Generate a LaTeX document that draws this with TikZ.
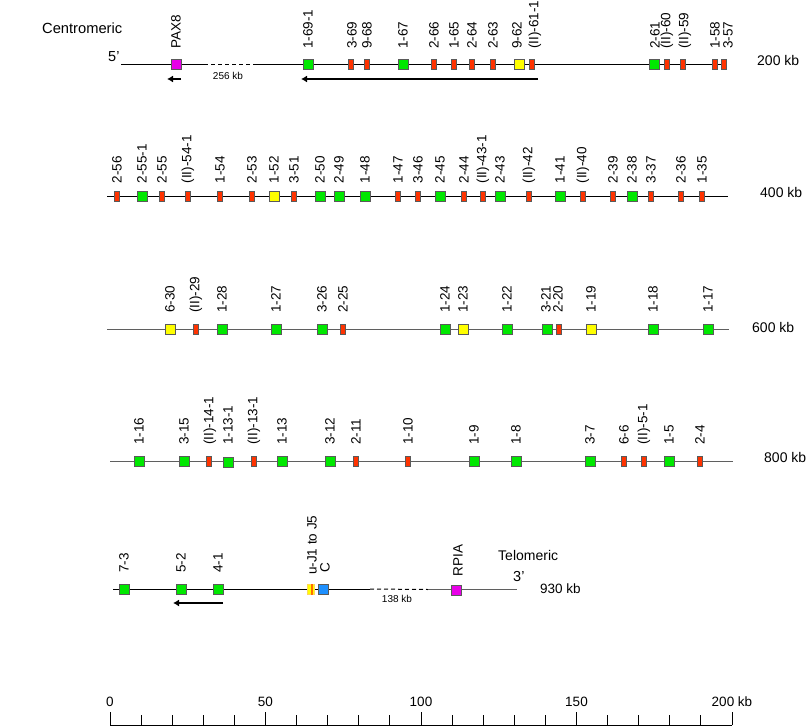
\documentclass[tikz,border=0pt]{standalone}
\usepackage{fontspec}
\setmainfont{Liberation Sans}
\usetikzlibrary{arrows.meta}
\definecolor{gG}{RGB}{0,232,0}
\definecolor{gR}{RGB}{255,51,0}
\definecolor{gY}{RGB}{255,255,0}
\definecolor{gM}{RGB}{232,0,232}
\definecolor{gB}{RGB}{30,144,255}
\definecolor{gO}{RGB}{255,110,0}
\definecolor{edge}{RGB}{90,90,90}
\definecolor{lineg}{RGB}{95,95,95}
\tikzset{
  genebase/.style={draw=edge,line width=1pt,inner sep=0pt,minimum height=10pt},
  geneG/.style={genebase,fill=gG,minimum width=10pt},
  geneY/.style={genebase,fill=gY,minimum width=10pt},
  geneM/.style={genebase,fill=gM,minimum width=10pt},
  geneB/.style={genebase,fill=gB,minimum width=10pt},
  geneR/.style={genebase,fill=gR,minimum width=5pt},
  lab/.style={rotate=90,anchor=west,inner sep=0pt,font=\fontsize{13.5}{15}\selectfont},
  txt/.style={inner sep=0pt,font=\fontsize{14}{16}\selectfont},
  small/.style={inner sep=0pt,font=\fontsize{10}{12}\selectfont},
  chrom/.style={line width=1pt},
  gapline/.style={line width=1pt,dash pattern=on 4pt off 3pt},
  arr/.style={line width=2pt,-{Latex[length=6pt,width=7pt]}},
}
\newcommand\generow[3]{%
  \foreach \x/\t/\l/\d in {#3} {
    \node[gene\t] (n\t\x) at (\x,#1) {};
    \node[lab] (l\t\x) at (\x+\d,#2) {\l};
  }}
\begin{document}
\begin{tikzpicture}[x=1pt,y=-1pt]
\useasboundingbox (0,0) rectangle (807,726);
% ---------- row 1
\node[txt,anchor=west,font=\fontsize{14.7}{17}\selectfont] (cen) at (42,28) {Centromeric};
\node[txt,anchor=west,font=\fontsize{14.5}{17}\selectfont] (p5) at (108,57) {5'};
\coordinate (r1a) at (121,64.5);
\coordinate (r1b) at (204,64.5);
\coordinate (r1c) at (257,64.5);
\coordinate (r1d) at (727,64.5);
\draw[chrom] (r1a) -- (r1b);
\draw[gapline] (r1b) -- (r1c);
\draw[chrom] (r1c) -- (r1d);
\node[small] (k256) at (228,76) {256 kb};
\generow{64.5}{49}{176/M/PAX8/0, 308/G/1-69-1/0, 351/R/3-69/1, 367/R/9-68/0, 403/G/1-67/0, 434/R/2-66/0, 454/R/1-65/0, 472/R/2-64/0, 493/R/2-63/0, 519/Y/9-62/-2, 532/R/(II)-61-1/3, 654/G/2-61/1, 667/R/(II)-60/0, 683/R/(II)-59/2, 715/R/1-58/0, 724/R/3-57/4}
\coordinate (a1s) at (181,79);
\coordinate (a1e) at (167,79);
\draw[arr] (a1s) -- (a1e);
\coordinate (a2s) at (538,79);
\coordinate (a2e) at (301,79);
\draw[arr] (a2s) -- (a2e);
\node[txt,anchor=west] (kb200) at (757,60) {200 kb};
% ---------- row 2
\coordinate (r2a) at (107,196);
\coordinate (r2b) at (728,196);
\draw[chrom] (r2a) -- (r2b);
\generow{196}{183.5}{117/R/2-56/0, 142/G/2-55-1/0, 162/R/2-55/0, 188/R/(II)-54-1/0, 220/R/1-54/0, 252/R/2-53/0, 274/Y/1-52/0, 294/R/3-51/0, 320/G/2-50/0, 339/G/2-49/0, 365/G/1-48/0, 398/R/1-47/0, 418/R/3-46/0, 440/G/2-45/0, 464/R/2-44/0, 483/R/(II)-43-1/0, 500/G/2-43/0, 529/R/(II)-42/0, 560/G/1-41/0, 583/R/(II)-40/0, 613/R/2-39/0, 632/G/2-38/0, 651/R/3-37/0, 681/R/2-36/0, 702/R/1-35/0}
\node[txt,anchor=west] (kb400) at (760,192) {400 kb};
% ---------- row 3
\coordinate (r3a) at (107,329);
\coordinate (r3b) at (729,329);
\draw[chrom,draw=lineg] (r3a) -- (r3b);
\generow{329}{313}{170/Y/6-30/0, 196/R/(II)-29/0, 222/G/1-28/0, 276/G/1-27/0, 322/G/3-26/0, 343/R/2-25/0, 445/G/1-24/0, 463/Y/1-23/0, 507/G/1-22/0, 547/G/3-21/-1, 559/R/2-20/-1, 591/Y/1-19/0, 653/G/1-18/0, 708/G/1-17/0}
\node[txt,anchor=west] (kb600) at (752,327) {600 kb};
% ---------- row 4
\coordinate (r4a) at (110,461);
\coordinate (r4b) at (733,461);
\draw[chrom,draw=lineg] (r4a) -- (r4b);
\generow{461}{445}{139/G/1-16/0, 184/G/3-15/0, 209/R/(II)-14-1/1, 254/R/(II)-13-1/0, 282/G/1-13/0, 330/G/3-12/0, 356/R/2-11/0, 408/R/1-10/0, 474/G/1-9/0, 516/G/1-8/0, 590/G/3-7/0, 624/R/6-6/0, 644/R/(II)-5-1/0, 669/G/1-5/0, 700/R/2-4/0}
\generow{462}{445}{228/G/1-13-1/0}
\node[txt,anchor=west] (kb800) at (764,457) {800 kb};
% ---------- row 5
\coordinate (r5a) at (113,589);
\coordinate (r5b) at (370,589);
\coordinate (r5c) at (428,589.5);
\coordinate (r5d) at (517,589.5);
\draw[chrom] (r5a) -- (r5b);
\draw[gapline] (r5b) -- (r5c);
\draw[chrom,draw=lineg] (r5c) -- (r5d);
\node[small] (k138) at (397,599) {138 kb};
\generow{589}{573}{124/G/7-3/0, 181/G/5-2/0, 218/G/4-1/0, 323/B/C/2}
\generow{590}{576.5}{456/M/RPIA/2}
\node[inner sep=0pt,minimum width=7.5pt,minimum height=10.5pt,fill=gY,draw={rgb,255:red,255;green,215;blue,90},line width=0.5pt] (jseg) at (310.5,589) {};
\fill[gO] ([xshift=0.5pt]jseg.north) rectangle ([xshift=2.5pt]jseg.south);
\node[lab] (ljseg) at (312,575) {u-J1 to J5};
\coordinate (a3s) at (223,603);
\coordinate (a3e) at (173,603);
\draw[arr] (a3s) -- (a3e);
\node[txt,anchor=west] (tel) at (498,555) {Telomeric};
\node[txt,anchor=west,font=\fontsize{14.5}{17}\selectfont] (p3) at (513,577) {3'};
\node[txt,anchor=west,font=\fontsize{13.5}{16}\selectfont] (kb930) at (540,589) {930 kb};
% ---------- scale
\coordinate (s0) at (110,725);
\coordinate (s1) at (732,725);
\draw[line width=1pt] (s0) -- (s1);
\foreach \k in {0,10,...,200} {
  \pgfmathsetmacro\xx{110+3.11*\k}
  \coordinate (t\k) at (\xx,725);
  \draw[line width=1pt] (t\k) -- ++(0,-10);
}
\foreach \k in {0,50,100,150} {
  \draw[line width=1pt] (t\k) -- ++(0,-13);
  \node[txt,font=\fontsize{13.5}{16}\selectfont] (sl\k) at ([yshift=23pt]t\k) {\k};
}
\node[txt,font=\fontsize{13.5}{16}\selectfont] (sl200) at ([yshift=23pt]t200) {200 kb};
\draw[line width=1pt] (t200) -- ++(0,-13);
\end{tikzpicture}
\end{document}
